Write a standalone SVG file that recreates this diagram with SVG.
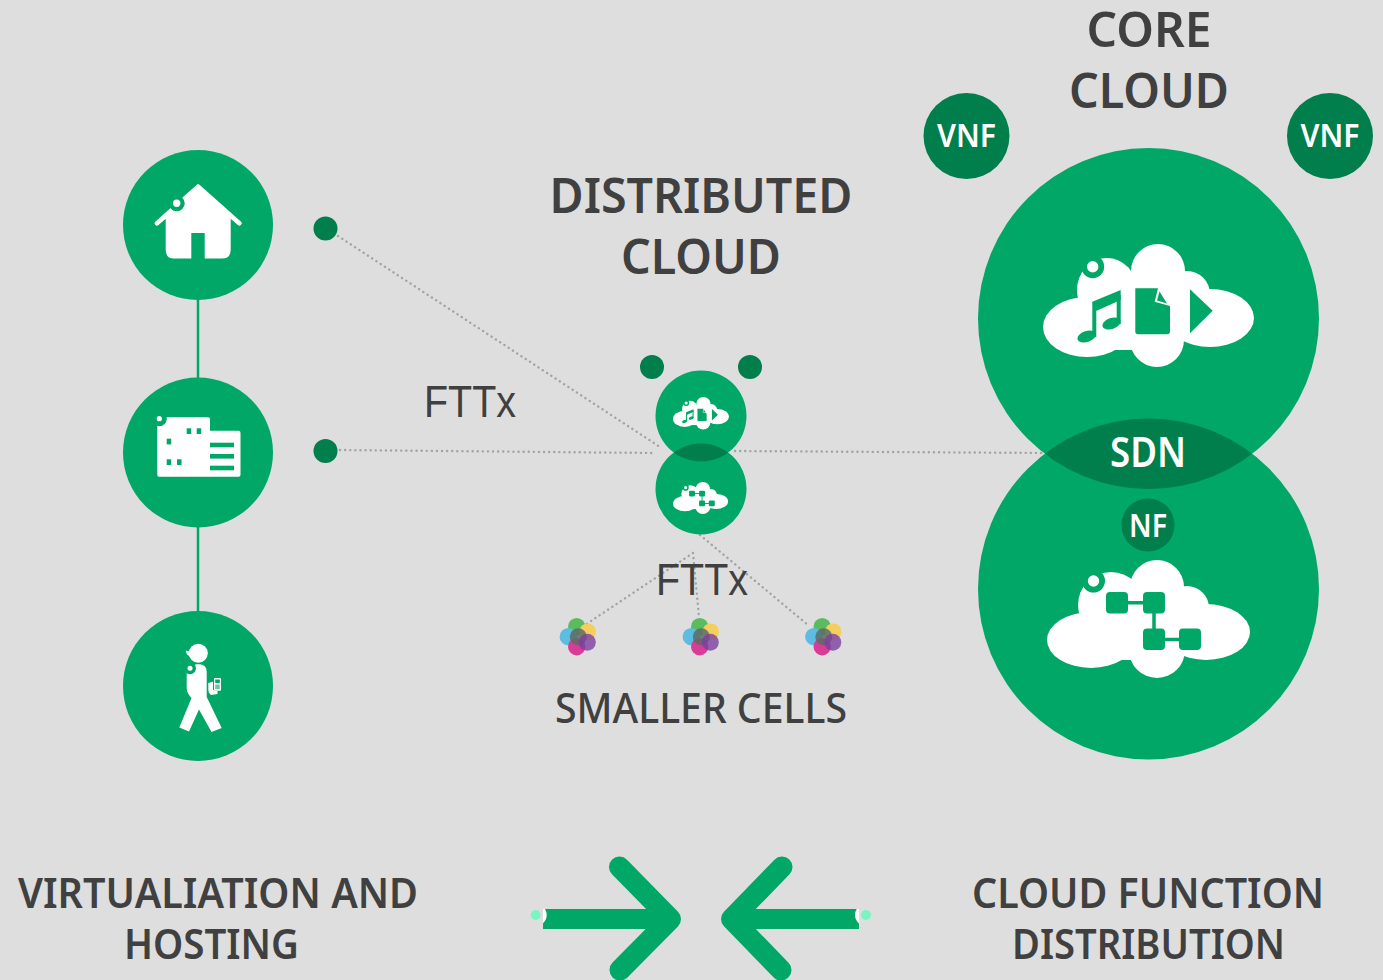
<svg xmlns="http://www.w3.org/2000/svg" width="1383" height="980" viewBox="0 0 1383 980">
<style>
.g{fill:#00a767}.d{fill:#007e4c}.w{fill:#fff}
.h{font-family:"Noto Sans","Open Sans",sans-serif;font-weight:600;fill:#404040;text-anchor:middle}
.t{font-family:"Noto Sans","Open Sans",sans-serif;font-weight:600;fill:#fff;text-anchor:middle}
.f{font-family:"Liberation Sans",Arial,sans-serif;font-size:44px;fill:#404040}
.dot{fill:none;stroke:#a3a3a3;stroke-width:2.4;stroke-linecap:round;stroke-dasharray:.1 5}
.lnk{stroke:#00a767;stroke-width:2.500;fill:none}
.arr{fill:none;stroke:#00a767;stroke-width:21;stroke-linecap:round;stroke-linejoin:round}
.bar{fill:none;stroke:#00a767;stroke-width:20}
.spark{fill:#7af5c0}
</style>
<defs>
<clipPath id="cTop"><circle cx="1148.500" cy="318.500" r="170.500"/></clipPath>
<clipPath id="cTopS"><circle cx="701" cy="416" r="45.500"/></clipPath>
<clipPath id="cBarL"><rect x="543" y="909" width="20" height="20"/></clipPath>
<clipPath id="cBarR"><rect x="839" y="909" width="20" height="20"/></clipPath>
<g id="musicCloud">
<ellipse class="w" cx="1087" cy="327" rx="44" ry="30"/>
<ellipse class="w" cx="1210" cy="318" rx="44" ry="29"/>
<circle class="w" cx="1158" cy="271" r="27"/>
<ellipse class="w" cx="1107" cy="290" rx="30" ry="32"/>
<circle class="w" cx="1187" cy="294" r="23"/>
<circle class="w" cx="1157" cy="340" r="27"/>
<rect class="w" x="1085" y="285" width="90" height="65"/>
<circle class="g" cx="1092.700" cy="266.700" r="11.500"/>
<circle class="w" cx="1092.700" cy="266.700" r="5.700"/>
<path class="g" d="M1092.300 301.700L1120.700 290V300L1096 311Z"/>
<rect class="g" x="1092.300" y="302" width="4" height="35"/>
<rect class="g" x="1116.700" y="295" width="4" height="29"/>
<ellipse class="g" cx="1086.700" cy="336.500" rx="9.700" ry="5.500" transform="rotate(-18 1086.700 336.500)"/>
<ellipse class="g" cx="1111.500" cy="323.500" rx="9.500" ry="5.500" transform="rotate(-18 1111.500 323.500)"/>
<path class="g" d="M1135.300 288.300H1158L1154.700 301.700L1170 306V331.500Q1170 334.300 1167 334.300H1138Q1135.300 334.300 1135.300 331.500Z"/>
<path class="g" d="M1159.500 291.500L1167 303.500L1157 300.500Z"/>
<path class="g" d="M1190 289.300L1212.700 310.700L1190 333.300Z"/>
</g>
<g id="netCloud">
<ellipse class="w" cx="1091" cy="640" rx="44" ry="28"/>
<ellipse class="w" cx="1206" cy="632" rx="44" ry="28"/>
<circle class="w" cx="1157" cy="587" r="27"/>
<ellipse class="w" cx="1111" cy="605" rx="33" ry="33"/>
<circle class="w" cx="1187" cy="608" r="22"/>
<circle class="w" cx="1157" cy="650" r="28"/>
<rect class="w" x="1080" y="605" width="100" height="55"/>
<circle class="g" cx="1093.500" cy="581" r="11.500"/>
<circle class="w" cx="1093.500" cy="581" r="5.700"/>
<path d="M1115 602.700H1154V639.500H1185" fill="none" stroke="#00a767" stroke-width="3.500"/>
<rect class="g" x="1106" y="592" width="22" height="21.500" rx="4"/>
<rect class="g" x="1143" y="592" width="22" height="21.500" rx="4"/>
<rect class="g" x="1143" y="628.500" width="22" height="21.500" rx="4"/>
<rect class="g" x="1179" y="628.500" width="22" height="21.500" rx="4"/>
</g>
<g id="cluster">
<circle cx="-1.300" cy="-10.300" r="8.700" fill="#5cbb5c"/>
<circle cx="9.700" cy="-5.300" r="8.300" fill="#f5cf5e"/>
<circle cx="-9.700" cy="-.3" r="8.700" fill="#5cbde0"/>
<circle cx="-1.300" cy="9.700" r="8.700" fill="#d93c96"/>
<circle cx=".3" cy="-.3" r="8.500" fill="#5c6b66" fill-opacity=".85"/>
<circle cx="9.300" cy="5.300" r="8.500" fill="#7c3fa0" fill-opacity=".8"/>
</g>
</defs>
<rect width="1383" height="980" fill="#dedede"/>
<g id="connectors">
<path class="lnk" d="M198 298V380M198 526V612"/>
<path class="dot" d="M338 236L660 447M340 450L655 453M735 451L1048 453"/>
<path class="dot" d="M700 535L808 625M693 553L585 625M693 553L699 617"/>
</g>
<g id="node-home">
<circle class="g" cx="198" cy="225" r="75"/>
<path class="w" d="M197.700 184L199.500 184.800L240.800 221.500A2.200 2.200 0 0 1 237.800 225L230.700 218.700V250Q230.700 258.500 222 258.500H204.700V233H191.300V258.500H174Q165.700 258.500 165.700 250V218.700L158.500 225A2.200 2.200 0 0 1 155.500 221.500L170 208.500Z"/>
<circle class="g" cx="176.700" cy="203.300" r="8"/>
<circle class="w" cx="176.700" cy="203.300" r="3.700"/>
</g>
<g id="node-office">
<circle class="g" cx="198" cy="452.500" r="75"/>
<path class="w" d="M157.300 420H208Q210 417.300 210 419V430.700H238.500Q240.500 430.700 240.500 432.700V475Q240.500 476.700 238.500 476.700H159Q157.300 476.700 157.300 475Z"/>
<path class="w" d="M162 417.300H208Q210 417.300 210 419V432H162Z"/>
<circle class="g" cx="159.300" cy="418.700" r="7.500"/>
<circle class="w" cx="159.300" cy="418.700" r="2.600"/>
<g class="g"><rect x="186.700" y="428.300" width="4.500" height="5.700"/><rect x="196.700" y="428.300" width="4.500" height="5.700"/><rect x="166.700" y="438.700" width="4.500" height="5.700"/><rect x="166.700" y="459.300" width="4.500" height="5.700"/><rect x="177" y="459.300" width="4.500" height="5.700"/><rect x="210" y="442.700" width="24" height="4.600"/><rect x="210" y="454" width="24" height="4.600"/><rect x="210" y="465.700" width="24" height="4.600"/></g>
</g>
<g id="node-person">
<circle class="g" cx="198" cy="686" r="75"/>
<circle class="w" cx="198.300" cy="653.300" r="9.500"/>
<path class="w" d="M185.500 650.500L190 651.500L190.500 657L187 654.500Z"/>
<path class="w" d="M196 664.300H200Q206.700 665 206.700 672V697L221.700 728L211.500 732L199 709.500L189 731.500L179.300 727.500L191.500 698Q186.700 693 186.700 688V672Q190 668 196 664.300Z"/>
<circle class="g" cx="190" cy="668.300" r="6"/>
<circle class="w" cx="190" cy="668.300" r="2.500"/>
<path class="w" d="M208.300 683L213 681.700V690L217.500 691V694L211 695Q208.300 693 208.300 690Z"/>
<rect class="w" x="214" y="678" width="7" height="12.700" rx="1"/>
<rect class="g" x="215.200" y="679.500" width="4.600" height="3.500"/>
<rect class="g" x="215.200" y="684.500" width="4.600" height="4.500" opacity=".6"/>
</g>
<g id="node-dot-1"><circle class="d" cx="325.500" cy="228.500" r="12"/></g>
<g id="node-dot-2"><circle class="d" cx="325.500" cy="451" r="12"/></g>
<g id="label-fttx-1"><text class="f" x="424" y="417" textLength="92" lengthAdjust="spacingAndGlyphs">FTTx</text></g>
<g id="label-distributed"><text class="h" font-size="49" x="701" y="213" textLength="303" lengthAdjust="spacingAndGlyphs">DISTRIBUTED</text><text class="h" font-size="49" x="701" y="274" textLength="160" lengthAdjust="spacingAndGlyphs">CLOUD</text></g>
<g id="node-dist-dot-1"><circle class="d" cx="652" cy="367" r="12"/></g>
<g id="node-dist-dot-2"><circle class="d" cx="750" cy="367" r="12"/></g>
<g id="node-dist-top">
<circle class="g" cx="701" cy="416" r="45.500"/>
<use href="#musicCloud" transform="translate(396.600 332.300) scale(.265)"/>
</g>
<g id="node-dist-bottom">
<circle class="g" cx="701" cy="489" r="45.500"/>
<circle class="d" cx="701" cy="489" r="45.500" clip-path="url(#cTopS)"/>
<use href="#netCloud" transform="translate(389.300 330.200) scale(.271)"/>
</g>
<g id="label-fttx-2"><text class="f" x="656" y="595" textLength="92" lengthAdjust="spacingAndGlyphs">FTTx</text></g>
<g id="node-cell-1"><use href="#cluster" x="578" y="637"/></g>
<g id="node-cell-2"><use href="#cluster" x="701" y="637"/></g>
<g id="node-cell-3"><use href="#cluster" x="823.500" y="637"/></g>
<g id="label-smaller"><text class="h" style="font-weight:500" font-size="42" x="701" y="723" textLength="292" lengthAdjust="spacingAndGlyphs">SMALLER CELLS</text></g>
<g id="label-core"><text class="h" font-size="49" x="1149" y="47" textLength="125" lengthAdjust="spacingAndGlyphs">CORE</text><text class="h" font-size="49" x="1149" y="108" textLength="160" lengthAdjust="spacingAndGlyphs">CLOUD</text></g>
<g id="node-vnf-1"><circle class="d" cx="966.500" cy="136" r="43"/><text class="t" font-size="32" x="966.500" y="147" textLength="59" lengthAdjust="spacingAndGlyphs">VNF</text></g>
<g id="node-vnf-2"><circle class="d" cx="1330" cy="136" r="43"/><text class="t" font-size="32" x="1330" y="147" textLength="59" lengthAdjust="spacingAndGlyphs">VNF</text></g>
<g id="node-core-top">
<circle class="g" cx="1148.500" cy="318.500" r="170.500"/>
<use href="#musicCloud"/>
</g>
<g id="node-core-bottom">
<circle class="g" cx="1148.500" cy="589" r="170.500"/>
<circle class="d" cx="1148.500" cy="589" r="170.500" clip-path="url(#cTop)"/>
<use href="#netCloud"/>
</g>
<g id="node-sdn"><text class="t" font-size="41" x="1148" y="467" textLength="76" lengthAdjust="spacingAndGlyphs">SDN</text></g>
<g id="node-nf"><circle class="d" cx="1148" cy="525" r="26.500"/><text class="t" font-size="32" x="1148" y="537" textLength="38" lengthAdjust="spacingAndGlyphs">NF</text></g>
<g id="arrow-left">
<path class="bar" d="M543 919H665"/>
<path class="arr" d="M619.500 867L670.500 919L620 970"/>
<circle class="w" cx="535.700" cy="915" r="11" clip-path="url(#cBarL)"/>
<circle class="spark" cx="535.700" cy="915" r="5"/>
</g>
<g id="arrow-right">
<path class="bar" d="M859 919H737"/>
<path class="arr" d="M782 867L731.500 919L781 970"/>
<circle class="w" cx="866" cy="915" r="11" clip-path="url(#cBarR)"/>
<circle class="spark" cx="866" cy="915" r="5"/>
</g>
<g id="label-virt"><text class="h" font-size="42" x="218" y="908" textLength="400" lengthAdjust="spacingAndGlyphs">VIRTUALIATION AND</text><text class="h" font-size="42" x="211.500" y="959" textLength="175" lengthAdjust="spacingAndGlyphs">HOSTING</text></g>
<g id="label-func"><text class="h" font-size="42" x="1148" y="908" textLength="352" lengthAdjust="spacingAndGlyphs">CLOUD FUNCTION</text><text class="h" font-size="42" x="1148.500" y="959" textLength="273" lengthAdjust="spacingAndGlyphs">DISTRIBUTION</text></g>
</svg>
